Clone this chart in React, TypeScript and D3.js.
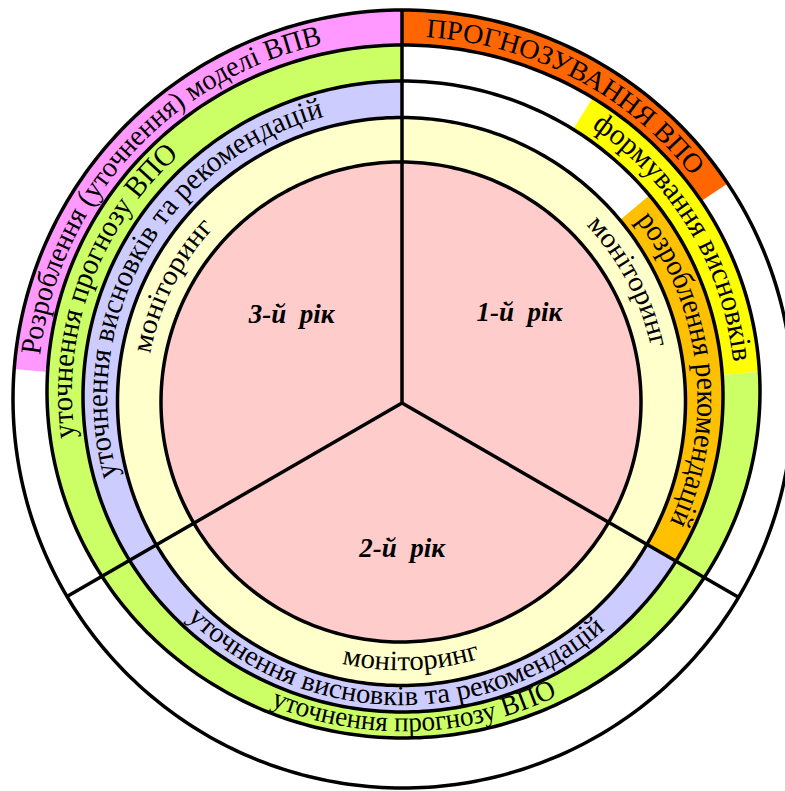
import * as d3 from "d3";

// centre sectors
const years = ["1-й  рік", "2-й  рік", "3-й  рік"];
const yearStart = [0, 120, 240]; // degrees, clockwise from the top
const yearSpan = 120;

// ring segments (ring 0 = innermost band, 3 = outermost)
const segLabels = [
  "моніторинг",
  "розроблення рекомендацій",
  "уточнення висновків та рекомендацій",
  "формування висновків",
  "уточнення прогнозу ВПО",
  "ПРОГНОЗУВАННЯ ВПО",
  "Розроблення (уточнення) моделі ВПВ",
];
const segRing = [0, 1, 1, 2, 2, 3, 3];
const segFrom = [0, 50, 120, 32, 85, 0, 275];
const segTo = [360, 120, 360, 85, 360, 56, 360];

// where every label is written: segment index, start and end angle (reading order)
const textSeg = [0, 0, 0, 1, 2, 2, 3, 4, 4, 5, 6];
const textFrom = [46, 281, 193, 52, 255.6, 225, 34.5, 264, 203.5, 3.7, 277.5];
const textTo = [77.6, 313, 163, 114, 344.8, 138, 83, 318, 152, 52, 347.5];

// ---- layout / style ----
const W = 785;
const H = 791;
const O = { x: 402, y: 403 };
// ring borders, slightly off-centre ellipses as in the drawing
const bounds = [
  { cx: 401, cy: 402, rx: 240, ry: 240 },
  { cx: 401.5, cy: 401.5, rx: 284, ry: 284 },
  { cx: 403, cy: 396.5, rx: 320, ry: 315.5 },
  { cx: 403.5, cy: 391.5, rx: 356.5, ry: 346.5 },
  { cx: 403, cy: 399, rx: 390, ry: 389 },
];
const segFill = ["#FFFFCC", "#FFC000", "#CCCCFF", "#FFFF00", "#CCFF66", "#FF6600", "#FF99FF"];
const centreFill = "#FFCCCC";
const yearPos = [
  [52, 149],
  [180, 145],
  [309, 142],
];
const FONT = '"Liberation Serif", "Times New Roman", "DejaVu Serif", serif';

const rad = (deg: number) => (deg * Math.PI) / 180;

function radiusAt(b: { cx: number; cy: number; rx: number; ry: number }, a: number) {
  const ux = Math.sin(a);
  const uy = -Math.cos(a);
  const px = O.x - b.cx;
  const py = O.y - b.cy;
  const A = (ux * ux) / (b.rx * b.rx) + (uy * uy) / (b.ry * b.ry);
  const B = 2 * ((px * ux) / (b.rx * b.rx) + (py * uy) / (b.ry * b.ry));
  const C = (px * px) / (b.rx * b.rx) + (py * py) / (b.ry * b.ry) - 1;
  return (-B + Math.sqrt(B * B - 4 * A * C)) / (2 * A);
}

function angles(from: number, to: number, step = 0.5) {
  const n = Math.max(2, Math.ceil(Math.abs(to - from) / step) + 1);
  return d3.range(n).map((i) => rad(from + ((to - from) * i) / (n - 1)));
}

export default function App() {
  const band = (ring: number) =>
    d3
      .areaRadial<number>()
      .angle((a) => a)
      .innerRadius((a) => (ring < 0 ? 0 : radiusAt(bounds[ring], a)))
      .outerRadius((a) => radiusAt(bounds[ring + 1], a));

  const border = (i: number) =>
    d3
      .lineRadial<number>()
      .angle((a) => a)
      .radius((a) => radiusAt(bounds[i], a))
      .curve(d3.curveLinearClosed)(angles(0, 360, 1).slice(0, -1))!;

  const spoke = (deg: number) =>
    d3
      .lineRadial<number>()
      .angle(() => rad(deg))
      .radius((r) => r)([0, radiusAt(bounds[4], rad(deg))])!;

  const textPaths = textSeg.map((s, i) => {
    const ring = segRing[s];
    const ccw = textFrom[i] > textTo[i];
    const caps = segLabels[s] === segLabels[s].toUpperCase();
    const size = caps ? 27 : ring === 3 ? 29 : ring === 0 ? 28 : ccw ? 28 : 30;
    const k = (caps ? 0.33 : ring === 3 ? 0.27 : 0.23) * size;
    const pts = angles(textFrom[i], textTo[i]);
    const radius = (a: number) => {
      const mid = (radiusAt(bounds[ring], a) + radiusAt(bounds[ring + 1], a)) / 2;
      return ccw ? mid + k : mid - k;
    };
    const d = d3
      .lineRadial<number>()
      .angle((a) => a)
      .radius(radius)(pts)!;
    let len = 0;
    for (let j = 1; j < pts.length; j++) {
      const r0 = radius(pts[j - 1]);
      const r1 = radius(pts[j]);
      len += Math.hypot(r1 * Math.sin(pts[j]) - r0 * Math.sin(pts[j - 1]), r1 * Math.cos(pts[j]) - r0 * Math.cos(pts[j - 1]));
    }
    return { d, len, size, label: segLabels[s] };
  });

  return (
    <svg
      width={W}
      height={H}
      style={{ position: "absolute", left: 0, top: 0, background: "#fff", fontFamily: FONT }}
    >
      <g transform={`translate(${O.x},${O.y})`}>
        {years.map((y, i) => (
          <path key={y} d={band(-1)(angles(yearStart[i], yearStart[i] + yearSpan))!} fill={centreFill} />
        ))}
        {segLabels.map((l, i) => (
          <path key={l} d={band(segRing[i])(angles(segFrom[i], segTo[i]))!} fill={segFill[i]} />
        ))}
        {bounds.map((_, i) => (
          <path key={i} d={border(i)} fill="none" stroke="#000" strokeWidth={3.5} />
        ))}
        {yearStart.map((a) => (
          <path key={a} d={spoke(a)} stroke="#000" strokeWidth={3.5} />
        ))}
        <defs>
          {textPaths.map((t, i) => (
            <path key={i} id={`tp${i}`} d={t.d} fill="none" />
          ))}
        </defs>
        {textPaths.map((t, i) => (
          <text key={i} fontSize={t.size} fill="#000" style={{ fontFamily: FONT }}>
            <textPath href={`#tp${i}`} textLength={t.len} lengthAdjust="spacingAndGlyphs">
              {t.label}
            </textPath>
          </text>
        ))}
        {years.map((y, i) => {
          const [a, r] = yearPos[i];
          return (
            <text
              key={y}
              x={r * Math.sin(rad(a))}
              y={-r * Math.cos(rad(a))}
              dy="0.35em"
              textAnchor="middle"
              fontSize={27}
              fontWeight="bold"
              fontStyle="italic"
              style={{ whiteSpace: "pre", fontFamily: FONT }}
            >
              {y}
            </text>
          );
        })}
      </g>
    </svg>
  );
}
